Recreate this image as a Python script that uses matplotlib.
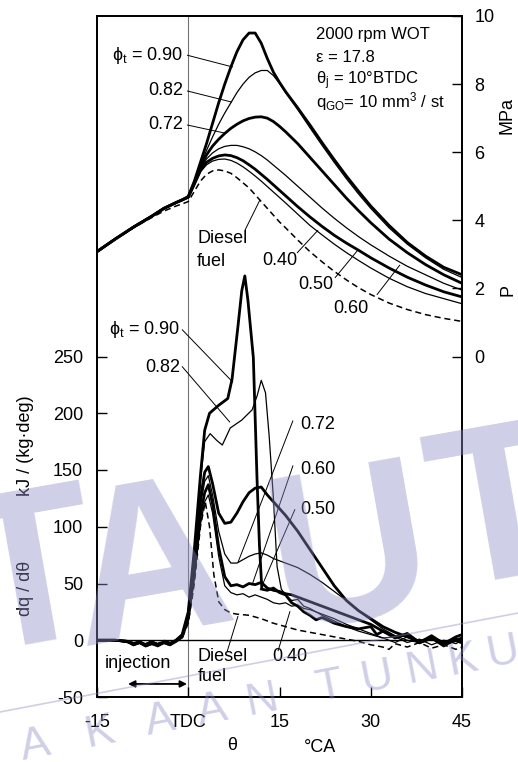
import numpy as np
import matplotlib
matplotlib.use("Agg")
import matplotlib.pyplot as plt
from matplotlib.lines import Line2D

plt.rcParams['font.family'] = ['Liberation Sans', 'DejaVu Sans']
plt.rcParams['mathtext.fontset'] = 'custom'
plt.rcParams['mathtext.rm'] = 'Liberation Sans'
plt.rcParams['mathtext.it'] = 'Liberation Sans:italic'
plt.rcParams['axes.unicode_minus'] = False

# -----------------------------------------------------------
# Cylinder pressure, MPa (right axis)
# -----------------------------------------------------------
theta_p = [-15, -12, -9, -6, -4, -2, -1, 0, 1, 2, 3, 4, 5, 6, 7, 8, 9, 10, 11, 12,
           13, 14, 15, 16, 18, 20, 22, 24, 26, 28, 30, 33, 36, 39, 42, 45]

p_090 = [3.08, 3.45, 3.8, 4.12, 4.35, 4.52, 4.6, 4.7, 5.15, 5.7, 6.25, 6.85, 7.45, 8.0, 8.5, 8.95,
         9.3, 9.5, 9.5, 9.2, 8.75, 8.35, 8.05, 7.78, 7.3, 6.8, 6.28, 5.78, 5.3, 4.85,
         4.42, 3.85, 3.35, 2.95, 2.62, 2.4]
p_082 = [3.08, 3.45, 3.8, 4.12, 4.35, 4.52, 4.6, 4.68, 5.12, 5.62, 6.05, 6.45, 6.82, 7.15, 7.45, 7.75,
         8.0, 8.2, 8.33, 8.4, 8.4, 8.25, 8.02, 7.75, 7.25, 6.72, 6.2, 5.7, 5.22, 4.77,
         4.35, 3.78, 3.3, 2.9, 2.56, 2.32]
p_072 = [3.08, 3.45, 3.8, 4.12, 4.35, 4.52, 4.6, 4.68, 5.1, 5.55, 5.92, 6.18, 6.38, 6.55, 6.7, 6.82,
         6.92, 6.99, 7.03, 7.04, 7.0, 6.9, 6.76, 6.6, 6.25, 5.85, 5.45, 5.05, 4.65, 4.28,
         3.93, 3.45, 3.05, 2.7, 2.4, 2.15]
p_060 = [3.08, 3.45, 3.8, 4.12, 4.35, 4.52, 4.6, 4.68, 5.08, 5.5, 5.8, 5.98, 6.1, 6.17, 6.2, 6.2,
         6.16, 6.1, 6.01, 5.9, 5.77, 5.62, 5.47, 5.32, 5.0, 4.68, 4.36, 4.06, 3.78, 3.52,
         3.28, 2.95, 2.65, 2.4, 2.15, 1.95]
p_050 = [3.08, 3.45, 3.8, 4.12, 4.35, 4.52, 4.6, 4.68, 5.06, 5.46, 5.7, 5.82, 5.89, 5.92, 5.9, 5.84,
         5.75, 5.63, 5.5, 5.35, 5.2, 5.04, 4.88, 4.72, 4.4, 4.1, 3.82, 3.56, 3.33, 3.12,
         2.9, 2.6, 2.33, 2.1, 1.9, 1.75]
p_040 = [3.08, 3.45, 3.8, 4.12, 4.35, 4.52, 4.6, 4.66, 5.03, 5.42, 5.63, 5.74, 5.79, 5.8, 5.76, 5.68,
         5.57, 5.44, 5.3, 5.15, 4.99, 4.83, 4.67, 4.51, 4.18, 3.85, 3.57, 3.3, 3.05, 2.82,
         2.6, 2.3, 2.05, 1.85, 1.7, 1.55]
p_diesel = [3.08, 3.45, 3.78, 4.08, 4.27, 4.42, 4.48, 4.55, 4.85, 5.15, 5.35, 5.45, 5.48, 5.45, 5.38, 5.25,
            5.1, 4.95, 4.75, 4.55, 4.35, 4.15, 3.95, 3.78, 3.42, 3.08, 2.78, 2.5, 2.25, 2.02,
            1.82, 1.57, 1.38, 1.23, 1.12, 1.03]

# -----------------------------------------------------------
# Heat release rate, kJ/(kg.deg) (left axis)
# -----------------------------------------------------------
theta_q090 = [-15, -12, -10, -9, -8, -7, -6, -5, -4, -3, -2, -1, 0, 1, 2, 2.7, 3.5, 5, 6.5, 7.2,
              8.2, 8.8, 9.3, 9.8, 10.7, 11.3, 11.7, 12.1, 13, 14, 15, 16, 17, 18, 19, 20, 21, 22,
              24, 26, 28, 30, 31, 32, 34, 36, 38, 40, 42, 44, 45]
q_090 = [0, 0, -1, -4, -2, -5, -3, -5, -2, -4, 0, 5, 25, 80, 145, 185, 200, 207, 213, 230,
         278, 308, 321, 300, 249, 143, 84, 45, 44, 46, 42, 40, 33, 30, 25, 22, 18, 20,
         15, 12, 10, 12, 5, 8, 2, 6, -2, 4, -3, 3, 5]

theta_q082 = [-15, -12, -10, -9, -8, -7, -6, -5, -4, -3, -2, -1, 0, 1, 2, 2.7, 3.6, 4.7, 5.6, 6.9,
              8.8, 10.5, 11.3, 12, 12.7, 13.3, 14, 14.6, 15.3, 16, 17, 18, 19, 20, 22, 24, 26, 28,
              30, 32, 34, 36, 38, 40, 42, 44, 45]
q_082 = [0, 0, -2, -3, -1, -4, -2, -4, -1, -3, -1, 5, 25, 78, 140, 175, 182, 176, 172, 187,
         194, 203, 215, 229, 218, 180, 125, 65, 45, 40, 35, 36, 30, 28, 22, 17, 12, 8,
         5, 2, -2, 3, -3, 1, -4, -1, -3]

theta_q072 = [-15, -12, -10, -9, -8, -7, -6, -5, -4, -3, -2, -1, 0, 1, 2, 2.7, 3.3, 4, 5, 6,
              7, 8, 9, 10, 11, 12, 13, 14, 16, 18, 20, 22, 24, 26, 28, 30, 32, 34, 36, 38,
              40, 42, 44, 45]
q_072 = [0, 0, -1, -3, -2, -4, -1, -4, -2, -3, 0, 4, 22, 70, 125, 148, 153, 138, 112, 103,
         104, 112, 122, 130, 134, 135, 128, 122, 110, 96, 80, 64, 48, 35, 26, 19, 12, 7, 3, -1,
         2, -2, 0, 2]

theta_q060 = theta_q072
q_060 = [0, 0, -2, -2, -1, -3, -2, -3, -1, -2, 0, 3, 20, 65, 118, 140, 145, 128, 96, 76,
         68, 68, 71, 74, 76, 77, 75, 72, 68, 64, 58, 51, 43, 35, 26, 18, 10, 4, 0, -2,
         1, -3, 0, -2]

theta_q050 = [-15, -12, -10, -9, -8, -7, -6, -5, -4, -3, -2, -1, 0, 1, 2, 2.7, 3.3, 4, 5, 6,
              7, 8, 9, 10, 11, 12, 13, 14, 15, 16, 17, 18, 19, 20, 22, 24, 26, 28, 30, 32,
              34, 36, 38, 40, 42, 44, 45]
q_050 = [0, 0, -1, -4, -2, -5, -3, -4, -2, -4, -1, 3, 19, 60, 110, 130, 137, 120, 82, 56,
         48, 49, 47, 50, 49, 51, 46, 44, 43, 41, 40, 38, 36, 34, 30, 26, 22, 18, 14, 8,
         3, 5, -2, 2, -5, 1, -2]

theta_q040 = theta_q050
q_040 = [0, 0, -2, -3, -1, -4, -2, -3, -1, -3, 0, 2, 17, 55, 102, 122, 128, 112, 74, 48,
         42, 40, 41, 38, 40, 38, 36, 33, 32, 33, 30, 31, 28, 27, 23, 19, 14, 10, 6, 2,
         3, -2, 1, -4, 0, -3, 0]

theta_qdiesel = [-15, -12, -10, -9, -8, -7, -6, -5, -4, -3, -2, -1, 0, 1, 2, 2.8, 3.5, 4.2, 5, 6,
                 7, 8, 10, 12, 14, 16, 18, 20, 22, 24, 26, 28, 30, 32, 33, 34, 36, 38, 40, 42,
                 44, 45]
q_diesel = [0, 0, -1, -2, -1, -3, -1, -3, 0, -2, 0, 2, 15, 50, 100, 122, 100, 58, 34, 27,
            24, 23, 22, 19, 15, 12, 9, 7, 5, 3, 1, -1, -4, -6, -8, -3, -6, -2, -7, -4,
            -8, -6]

x_ticks = [-15, 0, 15, 30, 45]
x_ticklabels = ['-15', 'TDC', '15', '30', '45']
q_ticks = [-50, 0, 50, 100, 150, 200, 250]
p_ticks = [0, 2, 4, 6, 8, 10]

THICK = 2.0
THIN = 0.9
FS = 13

fig = plt.figure(figsize=(5.18, 7.62), dpi=100)
ax = fig.add_axes([97 / 518, 1 - 697 / 762, 365 / 518, 681 / 762])
ax2 = ax.twinx()


def px(x, y):
    """Pixel position -> figure fraction."""
    return x / 518, 1 - y / 762


def leader(axis, x0, y0, x1, y1):
    axis.plot([x0, x1], [y0, y1], color='black', lw=0.7, solid_capstyle='butt')


# -----------------------------------------------------------
# Axes setup
# -----------------------------------------------------------
ax.set_xlim(-15, 45)
ax.set_ylim(-49, 550)
ax2.set_ylim(-10, 10)

ax.set_xticks(x_ticks)
ax.set_xticklabels(x_ticklabels)
ax.set_yticks(q_ticks)
ax.set_yticklabels([str(v) for v in q_ticks])
ax2.set_yticks(p_ticks)
ax2.set_yticklabels([str(v) for v in p_ticks])

ax.tick_params(axis='both', direction='in', length=7, width=1, labelsize=FS)
ax.tick_params(axis='y', pad=10)
ax.tick_params(axis='x', pad=12)
ax2.tick_params(axis='y', direction='in', length=7, width=1, labelsize=FS, pad=9)

for axis in (ax, ax2):
    for sp in axis.spines.values():
        sp.set_linewidth(1.3)

ax.axvline(0, color='0.45', lw=0.8, zorder=1)
ax.axhline(0, color='black', lw=1.0, zorder=1)

# -----------------------------------------------------------
# Heat release curves
# -----------------------------------------------------------
ax.plot(theta_q090, q_090, color='black', lw=THICK)
ax.plot(theta_q082, q_082, color='black', lw=THIN)
ax.plot(theta_q072, q_072, color='black', lw=THICK)
ax.plot(theta_q060, q_060, color='black', lw=THIN)
ax.plot(theta_q050, q_050, color='black', lw=THICK)
ax.plot(theta_q040, q_040, color='black', lw=THIN)
ax.plot(theta_qdiesel, q_diesel, color='black', lw=1.1, dashes=(4, 2.5))

# -----------------------------------------------------------
# Pressure curves
# -----------------------------------------------------------
ax2.plot(theta_p, p_090, color='black', lw=THICK)
ax2.plot(theta_p, p_082, color='black', lw=THIN)
ax2.plot(theta_p, p_072, color='black', lw=THICK)
ax2.plot(theta_p, p_060, color='black', lw=THIN)
ax2.plot(theta_p, p_050, color='black', lw=THICK)
ax2.plot(theta_p, p_040, color='black', lw=THIN)
ax2.plot(theta_p, p_diesel, color='black', lw=1.1, dashes=(4, 2.5))

# -----------------------------------------------------------
# Labels on the pressure curves
# -----------------------------------------------------------
ax2.text(-0.9, 8.83, r'$\mathregular{ϕ_t}$ = 0.90', fontsize=FS, ha='right', va='center')
ax2.text(-0.9, 7.80, '0.82', fontsize=FS, ha='right', va='center')
ax2.text(-0.9, 6.80, '0.72', fontsize=FS, ha='right', va='center')
leader(ax2, -0.2, 8.85, 7.36, 8.50)
leader(ax2, -0.2, 7.80, 7.19, 7.47)
leader(ax2, -0.2, 6.80, 6.04, 6.56)

ax2.text(1.44, 3.48, 'Diesel', fontsize=FS, ha='left', va='center')
ax2.text(1.44, 2.78, 'fuel', fontsize=FS, ha='left', va='center')
leader(ax2, 9.33, 3.71, 11.79, 4.60)
ax2.text(12.12, 2.83, '0.40', fontsize=FS, ha='left', va='center')
leader(ax2, 17.88, 3.04, 21.33, 3.71)
ax2.text(18.04, 2.10, '0.50', fontsize=FS, ha='left', va='center')
leader(ax2, 24.12, 2.31, 27.9, 3.13)
ax2.text(23.8, 1.42, '0.60', fontsize=FS, ha='left', va='center')
leader(ax2, 31.0, 1.81, 34.8, 2.69)

# operating conditions
ax2.text(21.0, 9.32, '2000 rpm WOT', fontsize=12, ha='left', va='baseline')
ax2.text(21.0, 8.64, 'ε = 17.8', fontsize=12, ha='left', va='baseline')
ax2.text(21.0, 7.99, r'$\mathregular{θ_j}$ = 10°BTDC', fontsize=12, ha='left', va='baseline')
ax2.text(21.0, 7.31, r'$\mathregular{q_{GO}}$= 10 mm$\mathregular{^3}$ / st', fontsize=12,
         ha='left', va='baseline')

# -----------------------------------------------------------
# Labels on the heat release curves
# -----------------------------------------------------------
ax.text(-1.36, 273.8, r'$\mathregular{ϕ_t}$ = 0.90', fontsize=FS, ha='right', va='center')
ax.text(-1.36, 240.4, '0.82', fontsize=FS, ha='right', va='center')
leader(ax, -1.03, 273.8, 7.36, 227.2)
leader(ax, -1.03, 241.3, 6.86, 192.0)

ax.text(18.37, 190.1, '0.72', fontsize=FS, ha='left', va='center')
ax.text(18.37, 150.5, '0.60', fontsize=FS, ha='left', va='center')
ax.text(18.37, 115.3, '0.50', fontsize=FS, ha='left', va='center')
leader(ax, 17.22, 193.6, 8.18, 68.7)
leader(ax, 17.22, 154.0, 10.48, 48.5)
leader(ax, 17.55, 115.5, 11.8, 44.0)

ax.text(1.6, -14.7, 'Diesel', fontsize=FS, ha='left', va='center')
ax.text(1.6, -32.3, 'fuel', fontsize=FS, ha='left', va='center')
leader(ax, 6.37, -10.4, 8.18, 21.3)
ax.text(13.77, -14.7, '0.40', fontsize=FS, ha='left', va='center')
leader(ax, 14.75, -9.6, 16.73, 25.6)

ax.text(-13.68, -20.9, 'injection', fontsize=FS, ha='left', va='center')
ax.annotate('', xy=(-9.9, -38.5), xytext=(-0.2, -38.5),
            arrowprops=dict(arrowstyle='<|-|>', color='black', lw=1.3,
                            mutation_scale=10, shrinkA=0, shrinkB=0))

# -----------------------------------------------------------
# Axis titles
# -----------------------------------------------------------
fig.text(*px(25, 446), 'kJ / (kg·deg)', fontsize=FS, rotation=90, ha='center', va='center')
fig.text(*px(25, 588), 'dq / dθ', fontsize=FS, rotation=90, ha='center', va='center')
fig.text(*px(507, 115), 'MPa', fontsize=FS, rotation=90, ha='center', va='center')
fig.text(*px(508, 290), 'P', fontsize=FS, rotation=90, ha='center', va='center')
fig.text(*px(232, 745), 'θ', fontsize=FS, ha='center', va='center')
fig.text(*px(320, 747), '°CA', fontsize=FS, ha='center', va='center')

# -----------------------------------------------------------
# Library stamp
# -----------------------------------------------------------
wm = dict(color='#8c8cc8', alpha=0.42, rotation=10, ha='center', va='center',
          fontweight='bold', zorder=10)
for ch, (x, y) in zip('TAUT', [(30, 585), (150, 575), (350, 560), (500, 520)]):
    fig.text(*px(x, y), ch, fontsize=160, **wm)

stamp = 'AKAAN TUNKU'
stamp_x = [35, 100, 160, 212, 262, 0, 330, 377, 422, 463, 503]
for ch, x in zip(stamp, stamp_x):
    if ch == ' ':
        continue
    y = 765 - 0.2 * (x - 20) - 16
    fig.text(*px(x, y), ch, fontsize=32, color='#8c8cc8', alpha=0.42,
             rotation=11, ha='center', va='center', zorder=10)

fig.add_artist(Line2D([0, 1], [1 - 712 / 762, 1 - 613 / 762], transform=fig.transFigure,
                      color='#8c8cc8', alpha=0.42, lw=1.2, zorder=10))

fig.savefig('out.png', dpi=100)
